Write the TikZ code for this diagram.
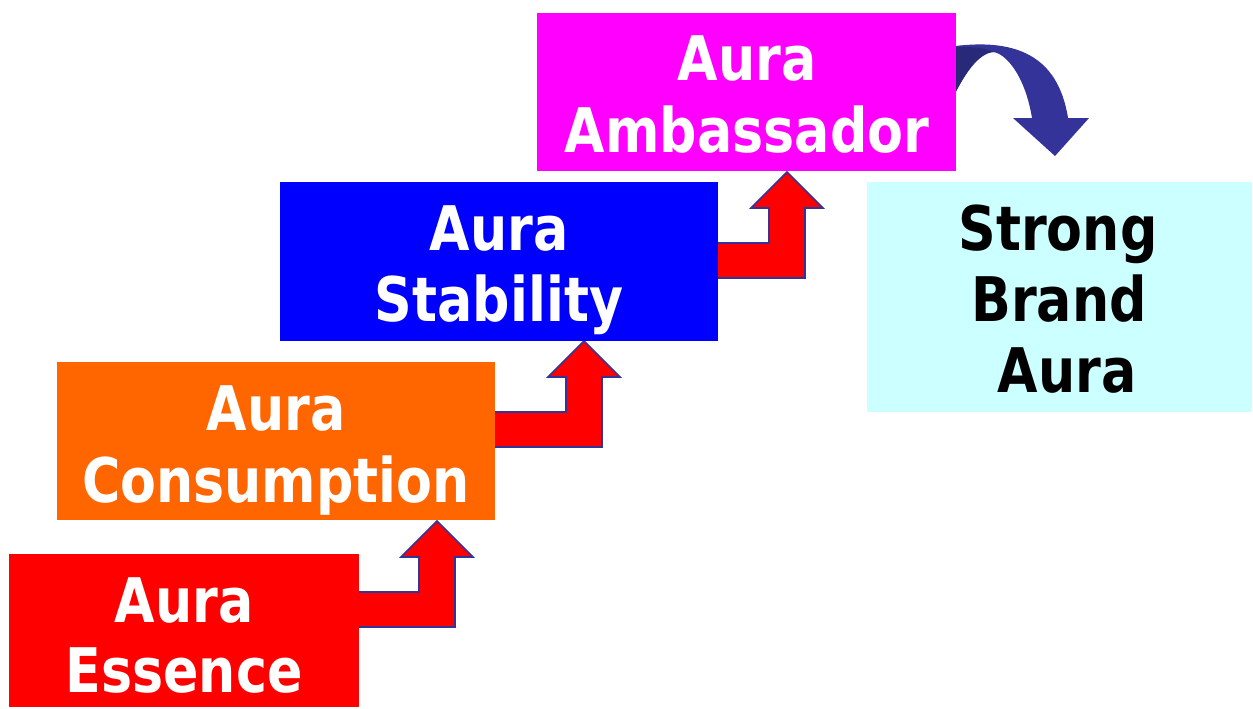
\documentclass[tikz,border=0pt]{standalone}
\usepackage{fontspec}
\newfontfamily\lblfont[FakeStretch=0.85]{DejaVu Sans}
\definecolor{cRed}{HTML}{FF0000}
\definecolor{cOrange}{HTML}{FF6600}
\definecolor{cBlue}{HTML}{0000FF}
\definecolor{cMagenta}{HTML}{FF00FF}
\definecolor{cCyan}{HTML}{CCFFFF}
\definecolor{cNavy}{HTML}{333399}
\definecolor{cNavyDark}{HTML}{29297A}
\newcommand\bentarrow[3]{%
  \draw[bentstyle, shift={(#1,#2)}] (#3,71) -- (-18,71) -- (-18,36) -- (-36,36) -- (0,0)
    -- (36,36) -- (18,36) -- (18,106) -- (#3,106) -- cycle;}
\begin{document}
\begin{tikzpicture}[x=0.02cm,y=-0.02cm,
  box/.style={rectangle, draw=none, inner sep=0pt, anchor=north west},
  lbl/.style={anchor=base, inner sep=0pt, font=\lblfont\bfseries\fontsize{35pt}{41pt}\selectfont},
  wlbl/.style={lbl, text=white},
  bentstyle/.style={fill=cRed, draw=cNavy, line width=0.9pt, line join=miter}]
\useasboundingbox (0,0) rectangle (1253,708);
% curved arrow (behind magenta box)
\fill[cNavy] (948,47) .. controls (1015,37) and (1058,55) .. (1068,118) -- (1089,118)
  -- (1055,156) -- (1013,118) -- (1032,118) .. controls (1025,75) and (1005,52) .. (992,52)
  .. controls (978,52) and (963,75) .. (948,108) -- cycle;
\fill[cNavyDark] (948,48) .. controls (965,46) and (982,47) .. (994,52)
  .. controls (978,53) and (963,75) .. (948,108) -- cycle;
% bent arrows
\bentarrow{437}{521}{-84}
\bentarrow{584}{341}{-94}
\bentarrow{787}{172}{-74}
% boxes
\node[box, fill=cRed, minimum width=7cm, minimum height=3.06cm] (ess) at (9,554) {};
\node[box, fill=cOrange, minimum width=8.76cm, minimum height=3.16cm] (cons) at (57,362) {};
\node[box, fill=cBlue, minimum width=8.76cm, minimum height=3.18cm] (stab) at (280,182) {};
\node[box, fill=cMagenta, minimum width=8.38cm, minimum height=3.16cm] (amb) at (537,13) {};
\node[box, fill=cCyan, minimum width=7.7cm, minimum height=4.6cm] (strong) at (867,182) {};
% labels
\node[wlbl] (ess1) at (184,622) {Aura};
\node[wlbl] (ess2) at (184,692) {Essence};
\node[wlbl] (cons1) at (276,430) {Aura};
\node[wlbl] (cons2) at (276,502) {Consumption};
\node[wlbl] (stab1) at (499,250) {Aura};
\node[wlbl] (stab2) at (499,321) {Stability};
\node[wlbl] (amb1) at (747,80) {Aura};
\node[wlbl] (amb2) at (747,152) {Ambassador};
\node[lbl] (str1) at (1058,250) {Strong};
\node[lbl] (str2) at (1059,321) {Brand};
\node[lbl] (str3) at (1067,392) {Aura};
\end{tikzpicture}
\end{document}
